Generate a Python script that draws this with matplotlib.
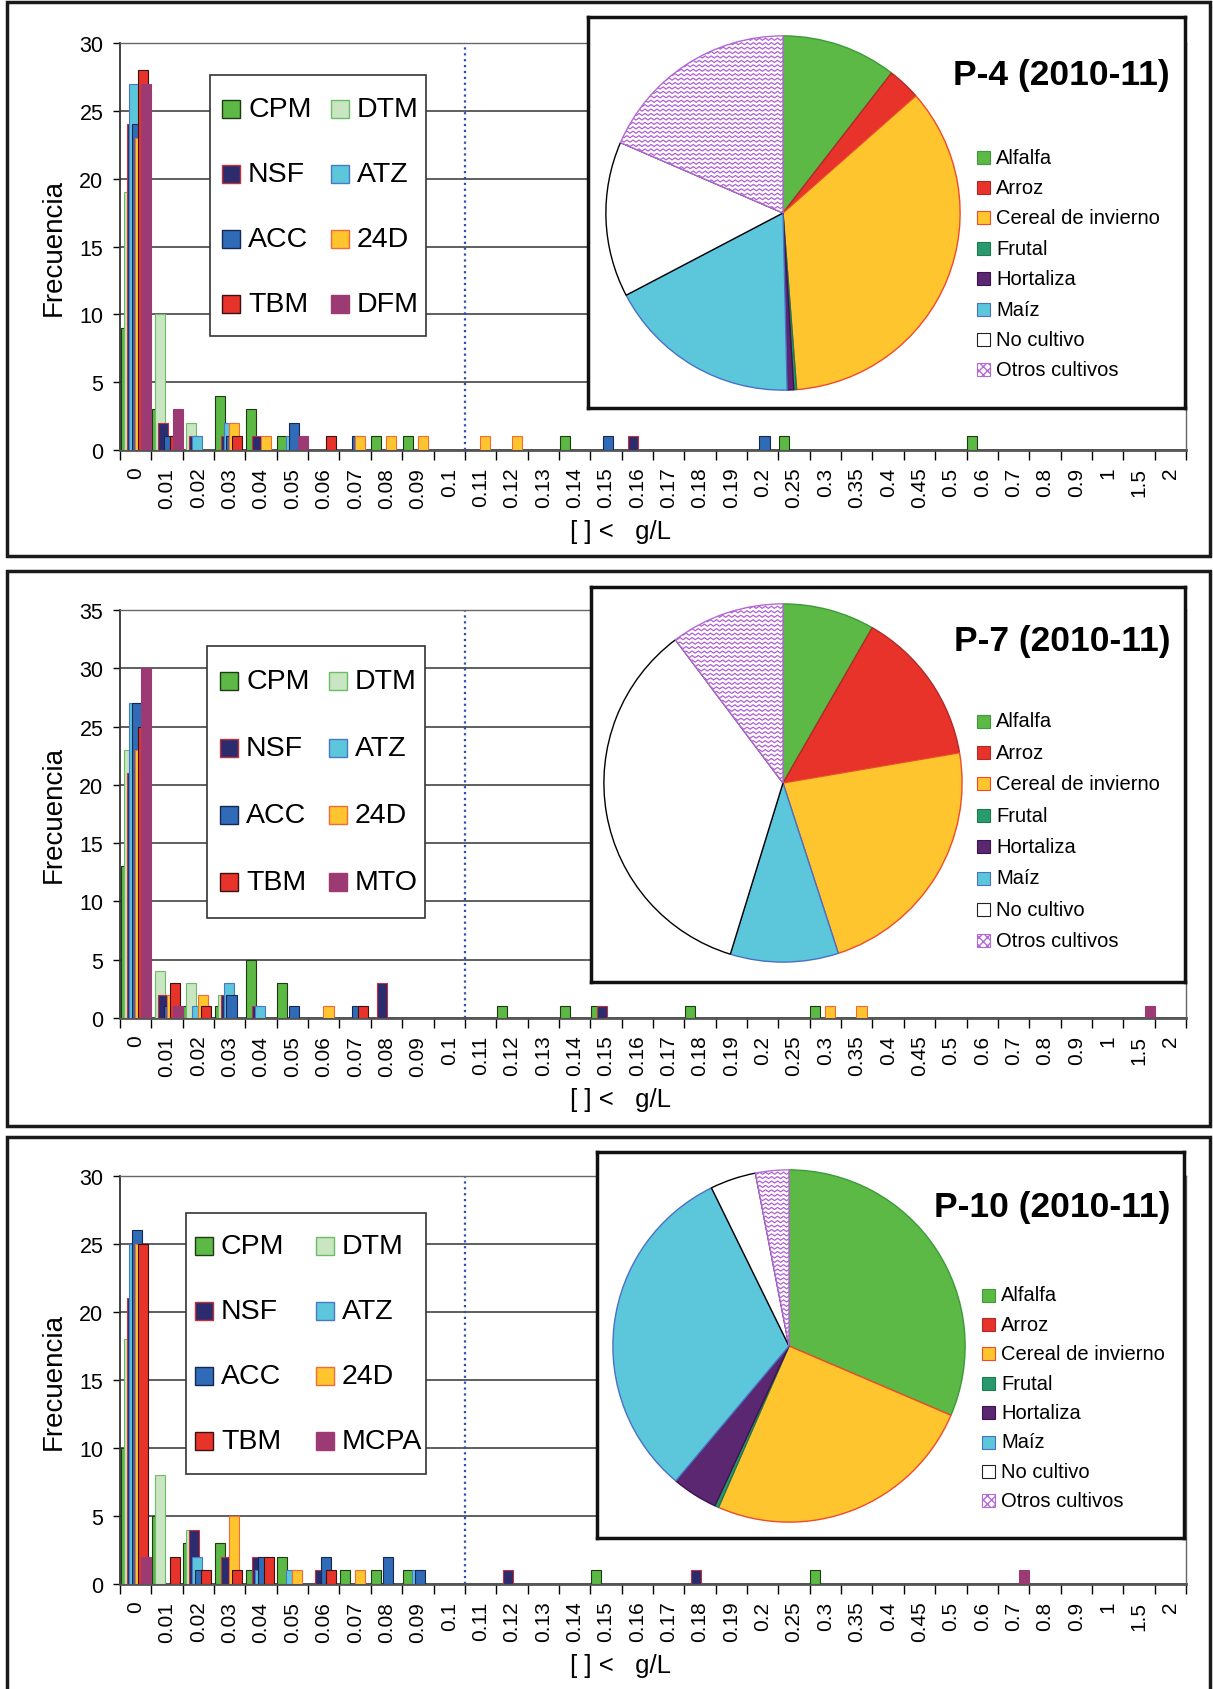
import matplotlib
matplotlib.use('Agg')
import matplotlib.pyplot as plt
from matplotlib.patches import Rectangle
import numpy as np

plt.rcParams['font.family'] = ['Liberation Sans', 'DejaVu Sans']

W, H = 1213, 1690

# x categories (concentration classes)
cat_labels = ['0', '0.01', '0.02', '0.03', '0.04', '0.05', '0.06', '0.07', '0.08', '0.09',
              '0.1', '0.11', '0.12', '0.13', '0.14', '0.15', '0.16', '0.17', '0.18', '0.19',
              '0.2', '0.25', '0.3', '0.35', '0.4', '0.45', '0.5', '0.6', '0.7', '0.8',
              '0.9', '1', '1.5', '2']

# ---- P-4 frequencies ----
cpm_p4 = [9, 3, 0, 4, 3, 1, 0, 0, 1, 1,  0, 0, 0, 0, 1, 0, 0, 0, 0, 0,  0, 1, 0, 0, 0, 0, 0, 1, 0, 0,  0, 0, 0, 0]
dtm_p4 = [19, 10, 2, 0, 0, 0, 0, 0, 0, 0,  0, 0, 0, 0, 0, 0, 0, 0, 0, 0,  0, 0, 0, 0, 0, 0, 0, 0, 0, 0,  0, 0, 0, 0]
nsf_p4 = [24, 2, 1, 1, 1, 0, 0, 0, 0, 0,  0, 0, 0, 0, 0, 0, 1, 0, 0, 0,  0, 0, 0, 0, 0, 0, 0, 0, 0, 0,  0, 0, 0, 0]
atz_p4 = [27, 0, 1, 2, 0, 1, 0, 0, 0, 0,  0, 0, 0, 0, 0, 0, 0, 0, 0, 0,  0, 0, 0, 0, 0, 0, 0, 0, 0, 0,  0, 0, 0, 0]
acc_p4 = [24, 1, 0, 1, 0, 2, 0, 1, 0, 0,  0, 0, 0, 0, 0, 1, 0, 0, 0, 0,  1, 0, 0, 0, 0, 0, 0, 0, 0, 0,  0, 0, 0, 0]
d24_p4 = [23, 0, 0, 2, 1, 0, 0, 1, 1, 1,  0, 1, 1, 0, 0, 0, 0, 0, 0, 0,  0, 0, 0, 0, 0, 0, 0, 0, 0, 0,  0, 0, 0, 0]
tbm_p4 = [28, 1, 0, 1, 0, 0, 1, 0, 0, 0,  0, 0, 0, 0, 0, 0, 0, 0, 0, 0,  0, 0, 0, 0, 0, 0, 0, 0, 0, 0,  0, 0, 0, 0]
dfm_p4 = [27, 3, 0, 0, 0, 1, 0, 0, 0, 0,  0, 0, 0, 0, 0, 0, 0, 0, 0, 0,  0, 0, 0, 0, 0, 0, 0, 0, 0, 0,  0, 0, 0, 0]

# ---- P-7 frequencies ----
cpm_p7 = [13, 0, 1, 1, 5, 3, 0, 0, 0, 0,  0, 0, 1, 0, 1, 1, 0, 0, 1, 0,  0, 0, 1, 0, 0, 0, 0, 0, 0, 0,  0, 0, 0, 0]
dtm_p7 = [23, 4, 3, 2, 0, 0, 0, 0, 0, 0,  0, 0, 0, 0, 0, 0, 0, 0, 0, 0,  0, 0, 0, 0, 0, 0, 0, 0, 0, 0,  0, 0, 0, 0]
nsf_p7 = [21, 2, 0, 2, 1, 0, 0, 0, 3, 0,  0, 0, 0, 0, 0, 1, 0, 0, 0, 0,  0, 0, 0, 0, 0, 0, 0, 0, 0, 0,  0, 0, 0, 0]
atz_p7 = [27, 0, 1, 3, 1, 0, 0, 0, 0, 0,  0, 0, 0, 0, 0, 0, 0, 0, 0, 0,  0, 0, 0, 0, 0, 0, 0, 0, 0, 0,  0, 0, 0, 0]
acc_p7 = [27, 1, 0, 2, 0, 1, 0, 1, 0, 0,  0, 0, 0, 0, 0, 0, 0, 0, 0, 0,  0, 0, 0, 0, 0, 0, 0, 0, 0, 0,  0, 0, 0, 0]
d24_p7 = [23, 2, 2, 0, 0, 0, 1, 0, 0, 0,  0, 0, 0, 0, 0, 0, 0, 0, 0, 0,  0, 0, 1, 1, 0, 0, 0, 0, 0, 0,  0, 0, 0, 0]
tbm_p7 = [25, 3, 1, 0, 0, 0, 0, 1, 0, 0,  0, 0, 0, 0, 0, 0, 0, 0, 0, 0,  0, 0, 0, 0, 0, 0, 0, 0, 0, 0,  0, 0, 0, 0]
mto_p7 = [30, 1, 0, 0, 0, 0, 0, 0, 0, 0,  0, 0, 0, 0, 0, 0, 0, 0, 0, 0,  0, 0, 0, 0, 0, 0, 0, 0, 0, 0,  0, 0, 1, 0]

# ---- P-10 frequencies ----
cpm_p10 = [10, 5, 3, 3, 1, 2, 0, 1, 1, 1,  0, 0, 0, 0, 0, 1, 0, 0, 0, 0,  0, 0, 1, 0, 0, 0, 0, 0, 0, 0,  0, 0, 0, 0]
dtm_p10 = [18, 8, 4, 0, 0, 0, 0, 0, 0, 0,  0, 0, 0, 0, 0, 0, 0, 0, 0, 0,  0, 0, 0, 0, 0, 0, 0, 0, 0, 0,  0, 0, 0, 0]
nsf_p10 = [21, 0, 4, 2, 2, 0, 1, 0, 0, 0,  0, 0, 1, 0, 0, 0, 0, 0, 1, 0,  0, 0, 0, 0, 0, 0, 0, 0, 0, 0,  0, 0, 0, 0]
atz_p10 = [25, 0, 2, 0, 1, 1, 0, 0, 0, 1,  0, 0, 0, 0, 0, 0, 0, 0, 0, 0,  0, 0, 0, 0, 0, 0, 0, 0, 0, 0,  0, 0, 0, 0]
acc_p10 = [26, 0, 1, 0, 2, 0, 2, 0, 2, 1,  0, 0, 0, 0, 0, 0, 0, 0, 0, 0,  0, 0, 0, 0, 0, 0, 0, 0, 0, 0,  0, 0, 0, 0]
d24_p10 = [25, 0, 0, 5, 0, 1, 0, 1, 0, 0,  0, 0, 0, 0, 0, 0, 0, 0, 0, 0,  0, 0, 0, 0, 0, 0, 0, 0, 0, 0,  0, 0, 0, 0]
tbm_p10 = [25, 2, 1, 1, 2, 0, 1, 0, 0, 0,  0, 0, 0, 0, 0, 0, 0, 0, 0, 0,  0, 0, 0, 0, 0, 0, 0, 0, 0, 0,  0, 0, 0, 0]
mcpa_p10 = [2, 0, 0, 0, 0, 0, 0, 0, 0, 0,  0, 0, 0, 0, 0, 0, 0, 0, 0, 0,  0, 0, 0, 0, 0, 0, 0, 0, 1, 0,  0, 0, 0, 0]

# ---- land use (pie) shares, % ----
crops = ['Alfalfa', 'Arroz', 'Cereal de invierno', 'Frutal', 'Hortaliza', 'Maíz',
         'No cultivo', 'Otros cultivos']
uso_p4 = [10.5, 3.0, 35.3, 0.25, 0.6, 17.7, 14.2, 18.5]
uso_p7 = [8.3, 14.0, 22.7, 0.0, 0.0, 9.75, 35.0, 10.25]
uso_p10 = [31.4, 0.0, 25.1, 0.35, 4.2, 31.6, 4.2, 3.05]

bar_fill = ['#5cb946', '#c9e5c2', '#2c2b6e', '#5cc6da', '#2f6bb7', '#fec52e', '#e8332a', '#9c3b73']
bar_edge = ['#1e3a12', '#6bbd66', '#c0323c', '#4a78c8', '#16284f', '#f26a3a', '#3a1212', '#9c3b73']
pie_fill = ['#5cb946', '#e8332a', '#fec52e', '#2a9a6c', '#5b2770', '#5cc6da', '#ffffff', '#ffffff']
pie_edge = ['#3c9a3a', '#b02a2a', '#f04a2a', '#1e7a50', '#3a1450', '#4a70c8', '#000000', '#b46ad6']


def fx(x):
    return x / W


def fy(y):
    return 1 - y / H


def fig_rect(x, y, w, h, **kw):
    fig.add_artist(Rectangle((fx(x), fy(y + h)), w / W, h / H,
                             transform=fig.transFigure, **kw))


panels = [
    dict(series=[cpm_p4, dtm_p4, nsf_p4, atz_p4, acc_p4, d24_p4, tbm_p4, dfm_p4],
         names=['CPM', 'DTM', 'NSF', 'ATZ', 'ACC', '24D', 'TBM', 'DFM'],
         ymax=30, ytop=44, ybot=451, frame=(7, 3, 1203, 554),
         leg=(210, 76, 216, 261), leg_rows=[110, 175, 240, 305], leg_cols=(222, 331),
         box=(588, 18, 597, 391), pie=uso_p4, center=(783, 214), r=178,
         title='P-4 (2010-11)', title_y=76, pie_leg_x=977, pie_leg_y0=158, pie_leg_dy=30.4),
    dict(series=[cpm_p7, dtm_p7, nsf_p7, atz_p7, acc_p7, d24_p7, tbm_p7, mto_p7],
         names=['CPM', 'DTM', 'NSF', 'ATZ', 'ACC', '24D', 'TBM', 'MTO'],
         ymax=35, ytop=611, ybot=1019, frame=(7, 572, 1203, 555),
         leg=(207, 647, 218, 272), leg_rows=[682, 749, 816, 883], leg_cols=(220, 329),
         box=(591, 588, 594, 395), pie=uso_p7, center=(783, 784), r=180,
         title='P-7 (2010-11)', title_y=641, pie_leg_x=977, pie_leg_y0=722, pie_leg_dy=31.4),
    dict(series=[cpm_p10, dtm_p10, nsf_p10, atz_p10, acc_p10, d24_p10, tbm_p10, mcpa_p10],
         names=['CPM', 'DTM', 'NSF', 'ATZ', 'ACC', '24D', 'TBM', 'MCPA'],
         ymax=30, ytop=1177, ybot=1585, frame=(7, 1138, 1203, 560),
         leg=(186, 1214, 240, 261), leg_rows=[1247, 1312, 1377, 1442], leg_cols=(195, 316),
         box=(597, 1153, 587, 386), pie=uso_p10, center=(789, 1347), r=177,
         title='P-10 (2010-11)', title_y=1207, pie_leg_x=982, pie_leg_y0=1296, pie_leg_dy=29.4),
]

fig = plt.figure(figsize=(W / 100, H / 100), dpi=100)

x_left, x_right = 120, 1186
ncat = len(cat_labels)
xpos = np.arange(ncat)
bar_w = 0.32
bar_step = 0.094

for p in panels:
    # outer frame of the panel
    fx0, fy0, fw, fh = p['frame']
    fig_rect(fx0, fy0, fw, fh, fill=False, edgecolor='#1a1a1a', lw=2.5, zorder=0)

    ax = fig.add_axes([fx(x_left), fy(p['ybot']), (x_right - x_left) / W,
                       (p['ybot'] - p['ytop']) / H])
    ax.set_axisbelow(True)
    for i, vals in enumerate(p['series']):
        v = np.array(vals)
        keep = v > 0
        ax.bar(xpos[keep] - 0.5 + 0.02 + i * bar_step, v[keep], width=bar_w,
               align='edge', color=bar_fill[i], edgecolor=bar_edge[i], lw=0.8, zorder=3)

    ax.set_xlim(-0.5, ncat - 0.5)
    ax.set_ylim(0, p['ymax'])
    ax.set_yticks(np.arange(0, p['ymax'] + 1, 5))
    ax.yaxis.grid(True, color='#444444', lw=1.2)
    ax.tick_params(axis='y', length=5, width=1, pad=7, labelsize=15.5)
    ax.set_xticks(np.arange(ncat + 1) - 0.5)
    ax.set_xticklabels([])
    ax.tick_params(axis='x', which='major', length=7, width=1, direction='out')
    ax.set_xticks(xpos, minor=True)
    ax.set_xticklabels(cat_labels, minor=True, rotation=90, fontsize=15, va='top')
    ax.tick_params(axis='x', which='minor', length=0, pad=12)
    for side in ['top', 'right']:
        ax.spines[side].set_color('#666666')
        ax.spines[side].set_linewidth(1.0)
    ax.spines['left'].set_color('#333333')
    ax.spines['left'].set_linewidth(1.3)
    ax.spines['bottom'].set_color('#555555')
    ax.spines['bottom'].set_linewidth(2.0)
    ax.axvline(10.5, color='#2f4fb0', ls=':', lw=1.6, zorder=2)

    fig.text(fx(54), fy((p['ytop'] + p['ybot']) / 2), 'Frecuencia', rotation=90,
             ha='center', va='center', fontsize=20)
    fig.text(fx(620), fy(p['ybot'] + 81), '[ ] <   g/L', ha='center', va='center',
             fontsize=18.5)

    # bar legend (2 columns, Excel order read row-wise)
    lx, ly, lw_, lh = p['leg']
    fig_rect(lx, ly, lw_, lh, facecolor='white', edgecolor='#333333', lw=1.2, zorder=4)
    for k, name in enumerate(p['names']):
        row, col = k // 2, k % 2
        sx = p['leg_cols'][col]
        sy = p['leg_rows'][row]
        fig_rect(sx, sy - 9, 18, 18, facecolor=bar_fill[k], edgecolor=bar_edge[k],
                 lw=1.0, zorder=5)
        fig.text(fx(sx + 26), fy(sy), name, ha='left', va='center', fontsize=20.5, zorder=6)

    # pie inset box
    bx, by, bw, bh = p['box']
    box = fig.add_axes([fx(bx), fy(by + bh), bw / W, bh / H])
    box.set_xticks([])
    box.set_yticks([])
    for s in box.spines.values():
        s.set_linewidth(2.5)
        s.set_color('#111111')

    cx, cy = p['center']
    r = p['r']
    pax = fig.add_axes([fx(cx - r), fy(cy + r), 2 * r / W, 2 * r / H])
    vals = np.array(p['pie'])
    keep = vals > 0
    wedges, _ = pax.pie(vals[keep], colors=np.array(pie_fill)[keep], startangle=90,
                        counterclock=False, radius=1,
                        wedgeprops=dict(linewidth=1.0))
    for wdg, ec in zip(wedges, np.array(pie_edge)[keep]):
        wdg.set_edgecolor(ec)
    # wavy purple pattern for "Otros cultivos"
    otros = wedges[-1]
    xs = np.arange(-1.0, 1.02, 0.017)
    for y0 in np.arange(-1.0, 1.0, 0.025):
        yy = y0 + np.where(np.arange(len(xs)) % 2 == 0, 0.0, 0.012)
        ln, = pax.plot(xs, yy, color='#b060d4', lw=0.9)
        ln.set_clip_path(otros)
    pax.set_xlim(-1.005, 1.005)
    pax.set_ylim(-1.005, 1.005)
    pax.set_aspect('equal')
    pax.axis('off')

    fig.text(fx(1170), fy(p['title_y']), p['title'], ha='right', va='center',
             fontsize=25.5, fontweight='bold')

    for k, crop in enumerate(crops):
        yy = p['pie_leg_y0'] + k * p['pie_leg_dy']
        if k == len(crops) - 1:
            fig_rect(p['pie_leg_x'], yy - 6.5, 13, 13, facecolor='white',
                     edgecolor='#b46ad6', hatch='xxxx', lw=0.8, zorder=5)
        else:
            fig_rect(p['pie_leg_x'], yy - 6.5, 13, 13, facecolor=pie_fill[k],
                     edgecolor='#222222' if k == 6 else pie_edge[k], lw=0.8, zorder=5)
        fig.text(fx(p['pie_leg_x'] + 19), fy(yy), crop, ha='left', va='center',
                 fontsize=14.5, zorder=6)

plt.savefig('out.png', dpi=100)
